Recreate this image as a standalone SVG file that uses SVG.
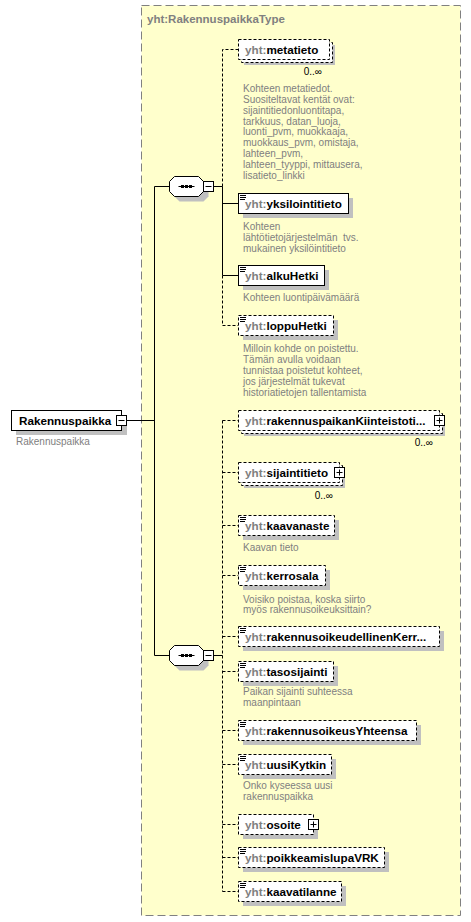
<svg xmlns="http://www.w3.org/2000/svg" width="471" height="922" viewBox="0 0 471 922">
<style>
.bg{fill:#ffffcc;stroke:#808080;stroke-width:1;stroke-dasharray:8 4}
.hd{font:bold 11.5px "Liberation Sans",Arial,sans-serif;fill:#808080}
.box{fill:#fff;stroke:#000;stroke-width:1}
.opt{stroke-dasharray:3 2}
.sh{fill:#c0c0c0}
.nm{font:bold 11.7px "Liberation Sans",Arial,sans-serif;fill:#000}
.pf{fill:#808080}
.ds{font:10px "Liberation Sans",Arial,sans-serif;fill:#808080}
.oc{font:10px "Liberation Sans",Arial,sans-serif;fill:#000;text-anchor:end}
.ln{stroke:#000;stroke-width:1;fill:none}
.dl{stroke-dasharray:3 2}
.ic{stroke:#000;stroke-width:1;fill:none}
</style>
<defs>
<path id="icon" d="M0 0.5h6M0 2.5h6M0 4.5h5"/>
</defs>
<rect class="bg" x="141.5" y="5.5" width="319" height="910"/>
<text class="hd" x="147" y="23">yht:RakennuspaikkaType</text>

<g id="connectors">
<path class="ln" d="M126 420.5H154.5M154.5 186.5V655.5M154.5 186.5H169.5M154.5 655.5H169.5"/>
<path class="ln" d="M213.5 186.5H222.5M213.5 655.5H222.5"/>
<path class="ln dl" d="M222.5 186.5V49.5H238.5"/>
<path class="ln" d="M222.5 186.5V275.5M222.5 203.5H238.5M222.5 275.5H238.5"/>
<path class="ln dl" d="M222.5 275.5V325.5H238.5"/>
<path class="ln dl" d="M222.5 420.5V891.5M222.5 420.5H238.5M222.5 472.5H238.5M222.5 525.5H238.5M222.5 575.5H238.5M222.5 636.5H238.5M222.5 671.5H238.5M222.5 730.5H238.5M222.5 764.5H238.5M222.5 824.5H238.5M222.5 857.5H238.5M222.5 891.5H238.5"/>
</g>

<g id="Rakennuspaikka">
<rect class="sh" x="16" y="415" width="111" height="20"/>
<rect class="box" x="11.5" y="410.5" width="110" height="20"/>
<text class="nm" x="19" y="424.5">Rakennuspaikka</text>
<rect class="box" x="116.5" y="415.5" width="10" height="10"/>
<path class="ln" d="M118.5 420.5H124.5"/>
<text class="ds" x="16" y="445">Rakennuspaikka</text>
</g>

<g id="seq1">
<polygon class="sh" points="179.5,181.5 203.5,181.5 208.5,186.5 208.5,196.5 203.5,201.5 179.5,201.5 174.5,196.5 174.5,186.5"/>
<polygon class="box" points="174.5,176.5 198.5,176.5 203.5,181.5 203.5,191.5 198.5,196.5 174.5,196.5 169.5,191.5 169.5,181.5"/>
<path class="ln" d="M178.5 186.5H194.5"/>
<rect x="181" y="185" width="3" height="3"/><rect x="185" y="185" width="3" height="3"/><rect x="189" y="185" width="3" height="3"/>
<rect class="box" x="203.5" y="181.5" width="10" height="10"/>
<path class="ln" d="M205.5 186.5H211.5"/>
</g>

<g id="seq2">
<polygon class="sh" points="179.5,650.5 203.5,650.5 208.5,655.5 208.5,665.5 203.5,670.5 179.5,670.5 174.5,665.5 174.5,655.5"/>
<polygon class="box" points="174.5,645.5 198.5,645.5 203.5,650.5 203.5,660.5 198.5,665.5 174.5,665.5 169.5,660.5 169.5,650.5"/>
<path class="ln" d="M178.5 655.5H194.5"/>
<rect x="181" y="654" width="3" height="3"/><rect x="185" y="654" width="3" height="3"/><rect x="189" y="654" width="3" height="3"/>
<rect class="box" x="203.5" y="650.5" width="10" height="10"/>
<path class="ln" d="M205.5 655.5H211.5"/>
</g>

<g id="metatieto">
<rect class="sh" x="244" y="45" width="91" height="20"/>
<rect class="box opt" x="241.5" y="42.5" width="91" height="20"/>
<rect class="box opt" x="238.5" y="39.5" width="91" height="20"/>
<text class="nm" x="245" y="53.5"><tspan class="pf">yht:</tspan>metatieto</text>
<text class="oc" x="322" y="75">0..∞</text>
<text class="ds" x="243" y="92">Kohteen metatiedot.<tspan x="243" dy="10.85">Suositeltavat kentät ovat:</tspan><tspan x="243" dy="10.85">sijaintitiedonluontitapa,</tspan><tspan x="243" dy="10.85">tarkkuus, datan_luoja,</tspan><tspan x="243" dy="10.85">luonti_pvm, muokkaaja,</tspan><tspan x="243" dy="10.85">muokkaus_pvm, omistaja,</tspan><tspan x="243" dy="10.85">lahteen_pvm,</tspan><tspan x="243" dy="10.85">lahteen_tyyppi, mittausera,</tspan><tspan x="243" dy="10.85">lisatieto_linkki</tspan></text>
</g>

<g id="yksilointitieto">
<rect class="sh" x="243" y="198" width="110" height="20"/>
<rect class="box" x="238.5" y="193.5" width="110" height="20"/>
<use href="#icon" class="ic" x="240" y="195"/>
<text class="nm" x="245" y="207.5"><tspan class="pf">yht:</tspan>yksilointitieto</text>
<text class="ds" x="243" y="230" xml:space="preserve">Kohteen<tspan x="243" dy="10.8">lähtötietojärjestelmän  tvs.</tspan><tspan x="243" dy="10.8">mukainen yksilöintitieto</tspan></text>
</g>

<g id="alkuHetki">
<rect class="sh" x="243" y="270" width="86" height="20"/>
<rect class="box" x="238.5" y="265.5" width="86" height="20"/>
<use href="#icon" class="ic" x="240" y="267"/>
<text class="nm" x="245" y="279.5"><tspan class="pf">yht:</tspan>alkuHetki</text>
<text class="ds" x="243" y="301">Kohteen luontipäivämäärä</text>
</g>

<g id="loppuHetki">
<rect class="sh" x="243" y="320" width="95" height="20"/>
<rect class="box opt" x="238.5" y="315.5" width="95" height="20"/>
<use href="#icon" class="ic" x="240" y="317"/>
<text class="nm" x="245" y="329.5"><tspan class="pf">yht:</tspan>loppuHetki</text>
<text class="ds" x="243" y="352">Milloin kohde on poistettu.<tspan x="243" dy="11">Tämän avulla voidaan</tspan><tspan x="243" dy="11">tunnistaa poistetut kohteet,</tspan><tspan x="243" dy="11">jos järjestelmät tukevat</tspan><tspan x="243" dy="11">historiatietojen tallentamista</tspan></text>
</g>

<g id="rakennuspaikanKiinteistotiedot">
<rect class="sh" x="244" y="416" width="201" height="20"/>
<rect class="box opt" x="241.5" y="413.5" width="201" height="20"/>
<rect class="box opt" x="238.5" y="410.5" width="201" height="20"/>
<text class="nm" x="245" y="424.5"><tspan class="pf">yht:</tspan>rakennuspaikanKiinteistoti...</text>
<rect class="box" x="434.5" y="415.5" width="10" height="10"/>
<path class="ln" d="M436.5 420.5H442.5M439.5 417.5V423.5"/>
<text class="oc" x="433" y="446">0..∞</text>
</g>

<g id="sijaintitieto">
<rect class="sh" x="244" y="468" width="101" height="20"/>
<rect class="box opt" x="241.5" y="465.5" width="101" height="20"/>
<rect class="box opt" x="238.5" y="462.5" width="101" height="20"/>
<text class="nm" x="245" y="476.5"><tspan class="pf">yht:</tspan>sijaintitieto</text>
<rect class="box" x="334.5" y="467.5" width="10" height="10"/>
<path class="ln" d="M336.5 472.5H342.5M339.5 469.5V475.5"/>
<text class="oc" x="333" y="499">0..∞</text>
</g>

<g id="kaavanaste">
<rect class="sh" x="243" y="520" width="96" height="20"/>
<rect class="box opt" x="238.5" y="515.5" width="96" height="20"/>
<use href="#icon" class="ic" x="240" y="517"/>
<text class="nm" x="245" y="529.5"><tspan class="pf">yht:</tspan>kaavanaste</text>
<text class="ds" x="243" y="551">Kaavan tieto</text>
</g>

<g id="kerrosala">
<rect class="sh" x="243" y="570" width="87" height="20"/>
<rect class="box opt" x="238.5" y="565.5" width="87" height="20"/>
<use href="#icon" class="ic" x="240" y="567"/>
<text class="nm" x="245" y="579.5"><tspan class="pf">yht:</tspan>kerrosala</text>
<text class="ds" x="243" y="602.5">Voisiko poistaa, koska siirto<tspan x="243" dy="10.8">myös rakennusoikeuksittain?</tspan></text>
</g>

<g id="rakennusoikeudellinenKerrosala">
<rect class="sh" x="243" y="631" width="201" height="20"/>
<rect class="box opt" x="238.5" y="626.5" width="201" height="20"/>
<use href="#icon" class="ic" x="240" y="628"/>
<text class="nm" x="245" y="640.5"><tspan class="pf">yht:</tspan>rakennusoikeudellinenKerr...</text>
</g>

<g id="tasosijainti">
<rect class="sh" x="243" y="666" width="95" height="20"/>
<rect class="box opt" x="238.5" y="661.5" width="95" height="20"/>
<use href="#icon" class="ic" x="240" y="663"/>
<text class="nm" x="245" y="675.5"><tspan class="pf">yht:</tspan>tasosijainti</text>
<text class="ds" x="243" y="695">Paikan sijainti suhteessa<tspan x="243" dy="10.8">maanpintaan</tspan></text>
</g>

<g id="rakennusoikeusYhteensa">
<rect class="sh" x="243" y="725" width="178" height="20"/>
<rect class="box opt" x="238.5" y="720.5" width="178" height="20"/>
<use href="#icon" class="ic" x="240" y="722"/>
<text class="nm" x="245" y="734.5"><tspan class="pf">yht:</tspan>rakennusoikeusYhteensa</text>
</g>

<g id="uusiKytkin">
<rect class="sh" x="243" y="759" width="93" height="20"/>
<rect class="box opt" x="238.5" y="754.5" width="93" height="20"/>
<use href="#icon" class="ic" x="240" y="756"/>
<text class="nm" x="245" y="768.5"><tspan class="pf">yht:</tspan>uusiKytkin</text>
<text class="ds" x="243" y="789">Onko kyseessa uusi<tspan x="243" dy="10.8">rakennuspaikka</tspan></text>
</g>

<g id="osoite">
<rect class="sh" x="243" y="819" width="75" height="20"/>
<rect class="box opt" x="238.5" y="814.5" width="75" height="20"/>
<text class="nm" x="245" y="828.5"><tspan class="pf">yht:</tspan>osoite</text>
<rect class="box" x="308.5" y="819.5" width="10" height="10"/>
<path class="ln" d="M310.5 824.5H316.5M313.5 821.5V827.5"/>
</g>

<g id="poikkeamislupaVRK">
<rect class="sh" x="243" y="852" width="146" height="20"/>
<rect class="box opt" x="238.5" y="847.5" width="146" height="20"/>
<use href="#icon" class="ic" x="240" y="849"/>
<text class="nm" x="245" y="861.5"><tspan class="pf">yht:</tspan>poikkeamislupaVRK</text>
</g>

<g id="kaavatilanne">
<rect class="sh" x="243" y="886" width="103" height="20"/>
<rect class="box opt" x="238.5" y="881.5" width="103" height="20"/>
<use href="#icon" class="ic" x="240" y="883"/>
<text class="nm" x="245" y="895.5"><tspan class="pf">yht:</tspan>kaavatilanne</text>
</g>
</svg>
